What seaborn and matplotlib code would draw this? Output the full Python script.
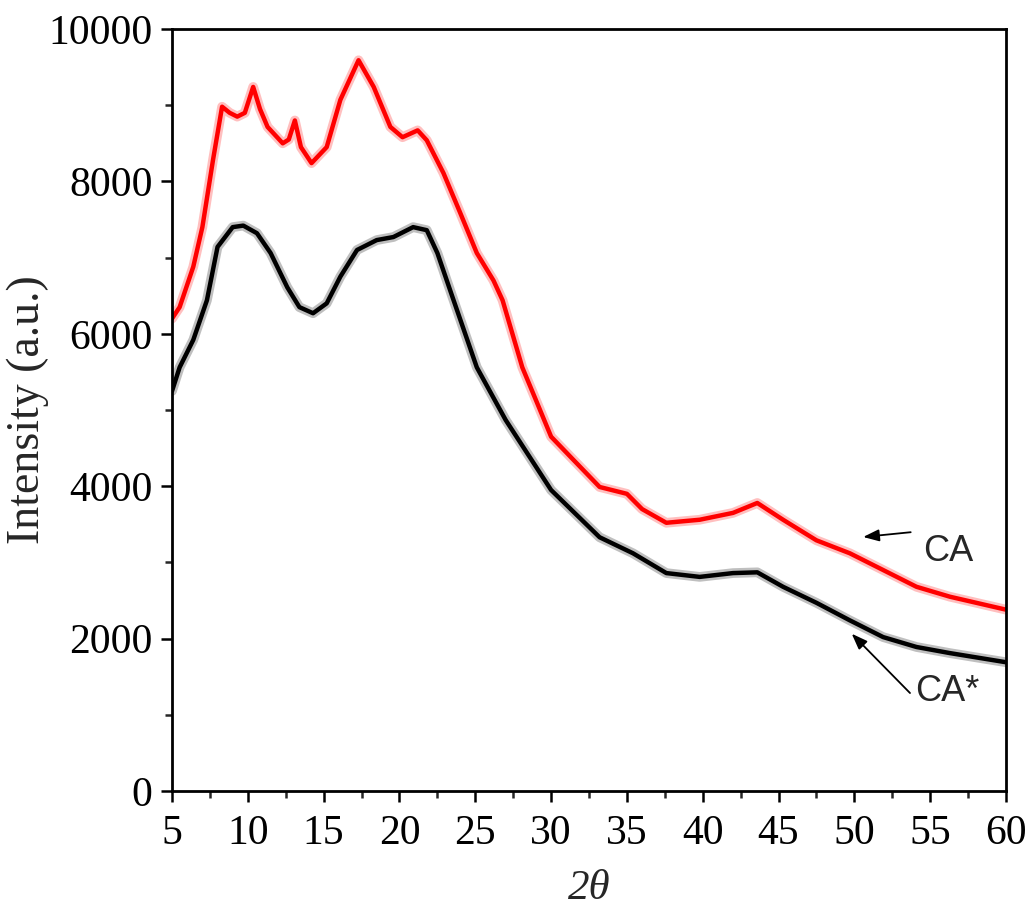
import numpy as np
import pandas as pd
import matplotlib
matplotlib.use("Agg")
import matplotlib.pyplot as plt
import seaborn as sns

# Data (2θ in degrees, intensity in a.u.)
ca_x = [5.0, 5.5, 6.4, 7.0, 7.7, 8.3, 8.8, 9.3, 9.8, 10.35, 10.8, 11.3, 12.3, 12.7,
        13.1, 13.5, 14.2, 15.2, 16.1, 17.3, 18.3, 19.4, 20.2, 21.2, 21.8, 22.9,
        24.0, 25.1, 26.2, 26.8, 28.1, 29.0, 30.0, 31.5, 33.2, 35.0, 36.0, 37.6,
        39.8, 42.0, 43.6, 45.3, 47.5, 49.7, 51.9, 54.1, 56.3, 60.0]
ca_y = [6200, 6350, 6880, 7400, 8280, 8980, 8900, 8850, 8900, 9240, 8950, 8715, 8500, 8550,
        8800, 8450, 8240, 8450, 9070, 9590, 9240, 8715, 8580, 8670, 8540, 8110,
        7590, 7060, 6700, 6440, 5560, 5130, 4650, 4340, 3990, 3900, 3700, 3520,
        3560, 3650, 3780, 3560, 3290, 3120, 2900, 2680, 2550, 2380]

cas_x = [5.0, 5.5, 6.4, 7.3, 8.0, 9.0, 9.7, 10.6, 11.5, 12.6, 13.4, 14.3, 15.2, 16.1,
         17.2, 18.5, 19.6, 20.9, 21.8, 22.5, 23.5, 25.1, 27.0, 30.0, 33.2, 35.4,
         37.6, 39.8, 42.0, 43.6, 45.3, 47.5, 49.7, 51.9, 54.1, 56.3, 60.0]
cas_y = [5250, 5560, 5920, 6440, 7140, 7400, 7420, 7320, 7060, 6610, 6350, 6270, 6400, 6750,
         7100, 7230, 7270, 7400, 7360, 7060, 6480, 5560, 4870, 3950, 3330, 3120,
         2860, 2810, 2860, 2870, 2680, 2470, 2240, 2020, 1890, 1810, 1690]

samples = ["CA", "CA*"]
colors = {"CA": "#ff0000", "CA*": "#000000"}

df = pd.concat([
    pd.DataFrame({"two_theta": ca_x, "intensity": ca_y, "sample": "CA"}),
    pd.DataFrame({"two_theta": cas_x, "intensity": cas_y, "sample": "CA*"}),
], ignore_index=True)

sns.set_theme(style="ticks")
plt.rcParams["font.family"] = ["Liberation Serif", "DejaVu Serif"]

fig = plt.figure(figsize=(10.29, 9.15), dpi=100)
ax = fig.add_axes([0.1672, 0.1355, 0.8104, 0.8328])

# soft halo to imitate the noisy band, then the main trace
sns.lineplot(data=df, x="two_theta", y="intensity", hue="sample", palette=colors,
             hue_order=samples, ax=ax, linewidth=7, alpha=0.25, legend=False,
             sort=False, estimator=None)
sns.lineplot(data=df, x="two_theta", y="intensity", hue="sample", palette=colors,
             hue_order=samples, ax=ax, linewidth=3.2, legend=False,
             sort=False, estimator=None)

ax.set_xlim(5, 60)
ax.set_ylim(0, 10000)
ax.set_xticks(np.arange(5, 61, 5))
ax.set_xticks(np.arange(7.5, 60, 5), minor=True)
ax.set_yticks(np.arange(0, 10001, 2000))
ax.set_yticks(np.arange(1000, 10000, 2000), minor=True)

ax.tick_params(axis="both", which="major", direction="out", length=8, width=1.8,
               labelsize=30, colors="black", pad=6)
ax.tick_params(axis="both", which="minor", direction="out", length=5, width=1.8)
ax.tick_params(axis="x", which="major", pad=9)
for s in ax.spines.values():
    s.set_linewidth(2.0)
    s.set_color("black")
    s.set_visible(True)

ax.set_xlabel("2θ", fontsize=31, style="italic", labelpad=12)
ax.set_ylabel("Intensity (a.u.)", fontsize=33)
ax.yaxis.set_label_coords(-0.148, 0.5)

ax.annotate("", xy=(50.4, 3330), xytext=(53.9, 3400),
            arrowprops=dict(arrowstyle="-|>,head_length=0.8,head_width=0.3",
                            color="black", lw=1.3))
ax.annotate("", xy=(49.7, 2090), xytext=(53.8, 1260),
            arrowprops=dict(arrowstyle="-|>,head_length=0.8,head_width=0.3",
                            color="black", lw=1.3))
ax.text(56.2, 3140, "CA", fontsize=26, family=["Liberation Sans", "DejaVu Sans"],
        ha="center", va="center")
ax.text(56.1, 1300, "CA*", fontsize=26, family=["Liberation Sans", "DejaVu Sans"],
        ha="center", va="center")

fig.savefig("out.png", dpi=100, facecolor="white")
